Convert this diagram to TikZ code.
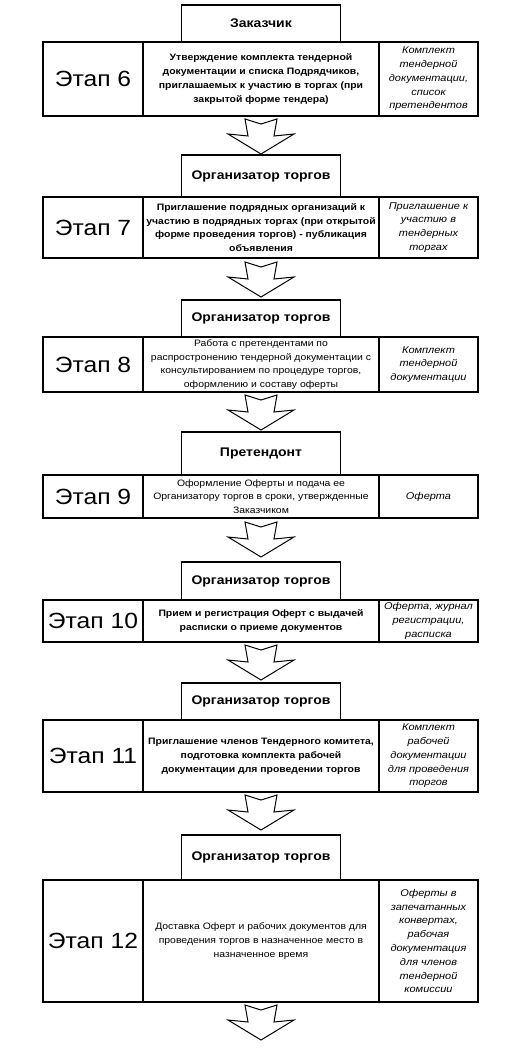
\documentclass[tikz,border=0pt]{standalone}
\usepackage{fontspec}
\setmainfont{Liberation Sans}[FakeStretch=1.12]
\usetikzlibrary{positioning}

\begin{document}
\begin{tikzpicture}[x=1pt, y=-1pt, line width=1.1pt,
    cell/.style={draw, rectangle, inner sep=1pt, outer sep=0pt, align=center},
    stagecell/.style={cell, minimum width=100pt, font=\fontsize{22}{26}\selectfont},
    taskcell/.style={cell, minimum width=236pt, font=\fontsize{9.3}{13.8}\selectfont\bfseries},
    docscell/.style={cell, minimum width=99pt, font=\fontsize{9.8}{13.8}\selectfont\itshape},
    actor/.style={cell, minimum width=159pt, minimum height=38pt, font=\fontsize{12.5}{14}\selectfont\bfseries},
    blockarrow/.pic={\draw[line width=1pt, fill=white] (-16,0) -- (0,5) -- (16,0) -- (13,17) -- (33,15) -- (0,35) -- (-33,15) -- (-13,17) -- cycle;}]
    \useasboundingbox (0,0) rectangle (520,1064);

    % Этап 6
    \node[stagecell, minimum height=74pt, anchor=north west] (stage6) at (43,42) {Этап 6};
    \node[taskcell, minimum height=74pt, right=0pt of stage6] (task6) {Утверждение комплекта тендерной\\документации и списка Подрядчиков,\\приглашаемых к участию в торгах (при\\закрытой форме тендера)};
    \node[docscell, minimum height=74pt, right=0pt of task6] (docs6) {Комплект\\тендерной\\документации,\\список\\претендентов};
    \node[actor, above=0pt of task6, minimum height=37pt] (actor6) {Заказчик};

    % Этап 7
    \node[stagecell, minimum height=61pt, anchor=north west] (stage7) at (43,197) {Этап 7};
    \node[taskcell, minimum height=61pt, right=0pt of stage7] (task7) {Приглашение подрядных организаций к\\участию в подрядных торгах (при открытой\\форме проведения торгов) - публикация\\объявления};
    \node[docscell, minimum height=61pt, right=0pt of task7] (docs7) {Приглашение к\\участию в\\тендерных\\торгах};
    \node[actor, above=0pt of task7, minimum height=42pt] (actor7) {Организатор торгов};

    % Этап 8
    \node[stagecell, minimum height=55pt, anchor=north west] (stage8) at (43,337) {Этап 8};
    \node[taskcell, minimum height=55pt, right=0pt of stage8, font=\fontsize{9.3}{13.8}\selectfont] (task8) {Работа с претендентами по\\распростронению тендерной документации с\\консультированием по процедуре торгов,\\оформлению и составу оферты};
    \node[docscell, minimum height=55pt, right=0pt of task8] (docs8) {Комплект\\тендерной\\документации};
    \node[actor, above=0pt of task8, minimum height=37pt] (actor8) {Организатор торгов};

    % Этап 9
    \node[stagecell, minimum height=43pt, anchor=north west] (stage9) at (43,475) {Этап 9};
    \node[taskcell, minimum height=43pt, right=0pt of stage9, font=\fontsize{9.3}{13.8}\selectfont] (task9) {Оформление Оферты и подача ее\\Организатору торгов в сроки, утвержденные\\Заказчиком};
    \node[docscell, minimum height=43pt, right=0pt of task9] (docs9) {Оферта};
    \node[actor, above=0pt of task9, minimum height=43pt] (actor9) {Претендонт};

    % Этап 10
    \node[stagecell, minimum height=42pt, anchor=north west] (stage10) at (43,600) {Этап 10};
    \node[taskcell, minimum height=42pt, right=0pt of stage10] (task10) {Прием и регистрация Оферт с выдачей\\расписки о приеме документов};
    \node[docscell, minimum height=42pt, right=0pt of task10] (docs10) {Оферта, журнал\\регистрации,\\расписка};
    \node[actor, above=0pt of task10, minimum height=38pt] (actor10) {Организатор торгов};

    % Этап 11
    \node[stagecell, minimum height=72pt, anchor=north west] (stage11) at (43,720) {Этап 11};
    \node[taskcell, minimum height=72pt, right=0pt of stage11] (task11) {Приглашение членов Тендерного комитета,\\подготовка комплекта рабочей\\документации для проведении торгов};
    \node[docscell, minimum height=72pt, right=0pt of task11] (docs11) {Комплект\\рабочей\\документации\\для проведения\\торгов};
    \node[actor, above=0pt of task11, minimum height=37pt] (actor11) {Организатор торгов};

    % Этап 12
    \node[stagecell, minimum height=122pt, anchor=north west] (stage12) at (43,880) {Этап 12};
    \node[taskcell, minimum height=122pt, right=0pt of stage12, font=\fontsize{9.3}{13.8}\selectfont] (task12) {Доставка Оферт и рабочих документов для\\проведения торгов в назначенное место в\\назначенное время};
    \node[docscell, minimum height=122pt, right=0pt of task12] (docs12) {Оферты в\\запечатанных\\конвертах,\\рабочая\\документация\\для членов\\тендерной\\комиссии};
    \node[actor, above=0pt of task12, minimum height=45pt] (actor12) {Организатор торгов};

    % стрелки между этапами
    \pic at ([yshift=-3pt]task6.south) {blockarrow};
    \pic at ([yshift=-4pt]task7.south) {blockarrow};
    \pic at ([yshift=-3pt]task8.south) {blockarrow};
    \pic at ([yshift=-4pt]task9.south) {blockarrow};
    \pic at ([yshift=-3pt]task10.south) {blockarrow};
    \pic at ([yshift=-3pt]task11.south) {blockarrow};
    \pic at ([yshift=-3pt]task12.south) {blockarrow};
\end{tikzpicture}
\end{document}
